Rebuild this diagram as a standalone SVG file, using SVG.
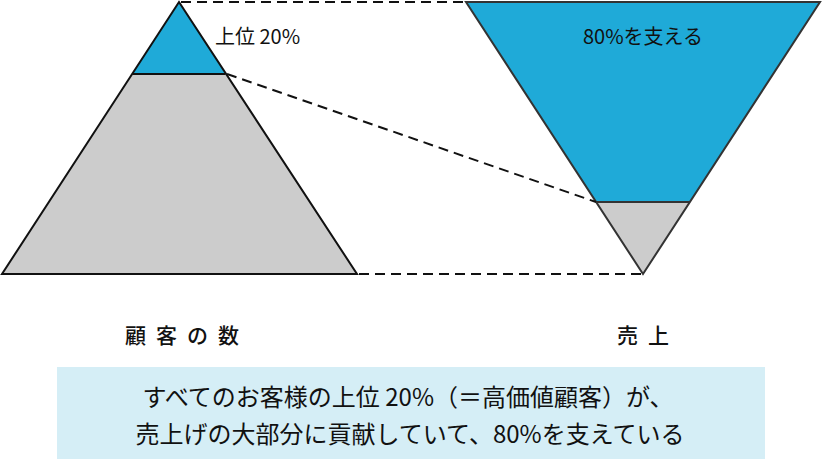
<svg xmlns="http://www.w3.org/2000/svg" width="823" height="459" viewBox="0 0 823 459">
<style>
text{font-family:"Noto Sans CJK JP","Noto Sans",sans-serif;fill:#111}
.blue{fill:#1faad8}
.gray{fill:#cccccc}
.edge{fill:none;stroke:#111;stroke-width:2;stroke-linejoin:miter}
.edge2{fill:none;stroke:#333;stroke-width:2;stroke-linejoin:miter}
.dash{fill:none;stroke:#111;stroke-width:2;stroke-dasharray:10 6}
.lbl{font-size:20px}
.ax{font-size:21px;letter-spacing:10px;font-weight:500}
.note{font-size:24px;text-anchor:middle}
</style>
<rect width="823" height="459" fill="#fff"/>
<g id="customers">
<polygon class="gray" points="132.5,74 225.5,74 357,274 2,274"/>
<polygon class="blue" points="179,2 225.5,74 132.5,74"/>
<polygon class="edge" points="179,2 357,274 2,274"/>
<line class="edge" x1="132.5" y1="74" x2="225.5" y2="74"/>
<text class="lbl" x="215" y="44">上位 20%</text>
</g>
<g id="sales">
<polygon class="blue" points="466,2 820,2 690,202 596,202"/>
<polygon class="gray" points="596,202 690,202 643,274"/>
<polygon class="edge2" points="466,2 820,2 643,274"/>
<line class="edge2" x1="596" y1="202" x2="690" y2="202"/>
<text class="lbl" x="643" y="44" text-anchor="middle">80%を支える</text>
</g>
<g id="connectors">
<line class="dash" x1="181" y1="2" x2="466" y2="2"/>
<line class="dash" x1="227" y1="74" x2="596" y2="202"/>
<line class="dash" x1="359" y1="274" x2="642" y2="274"/>
</g>
<g id="axis-labels">
<text class="ax" x="125" y="343">顧客の数</text>
<text class="ax" x="617" y="343">売上</text>
</g>
<g id="note">
<rect x="57" y="367" width="708" height="92" fill="#d5eef6"/>
<text class="note" x="408" y="406">すべてのお客様の上位 20%（＝高価値顧客）が、</text>
<text class="note" x="410" y="443">売上げの大部分に貢献していて、80%を支えている</text>
</g>
</svg>
